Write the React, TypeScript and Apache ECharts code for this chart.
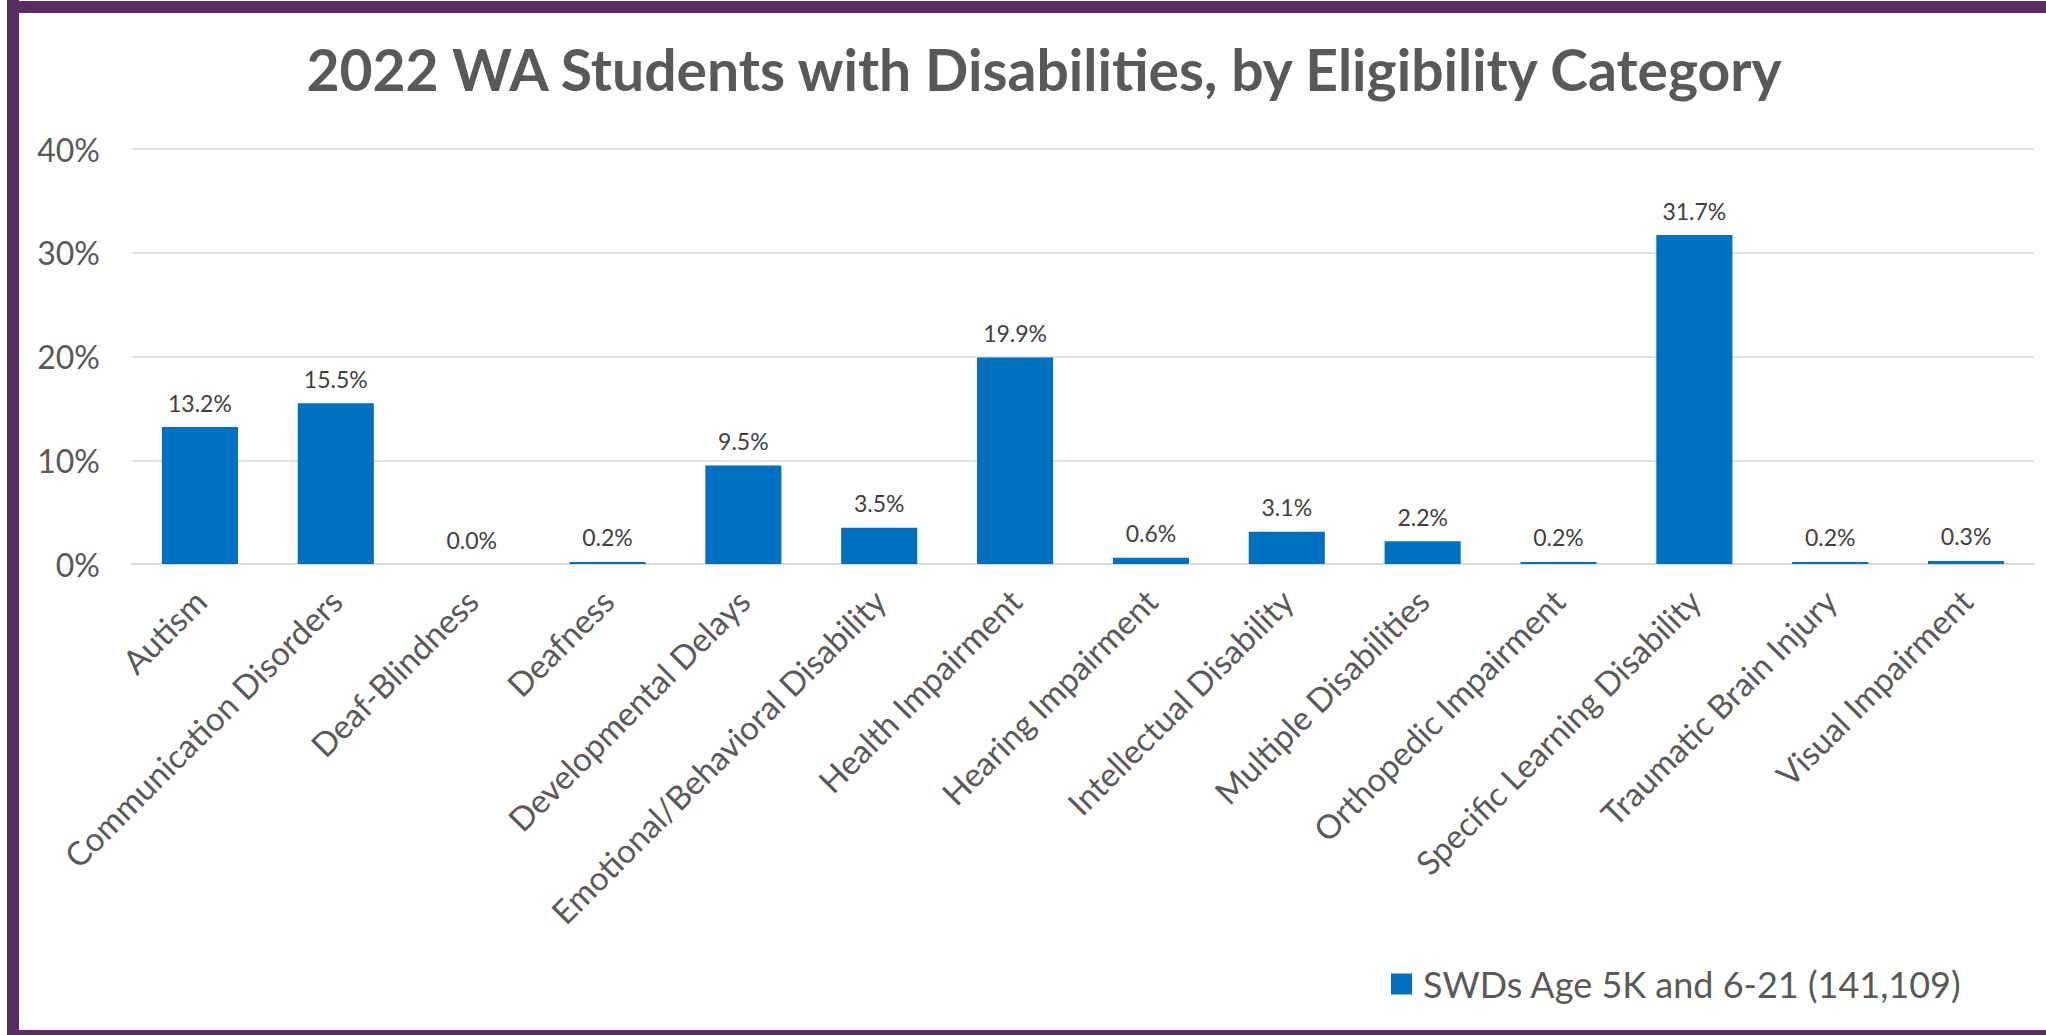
import React, { useEffect, useRef } from "react";
import * as echarts from "echarts";

const titleText = "2022 WA Students with Disabilities, by Eligibility Category";
const seriesName = "SWDs Age 5K and 6-21 (141,109)";
const categories = [
  "Autism",
  "Communication Disorders",
  "Deaf-Blindness",
  "Deafness",
  "Developmental Delays",
  "Emotional/Behavioral Disability",
  "Health Impairment",
  "Hearing Impairment",
  "Intellectual Disability",
  "Multiple Disabilities",
  "Orthopedic Impairment",
  "Specific Learning Disability",
  "Traumatic Brain Injury",
  "Visual Impairment",
];
const values = [13.2, 15.5, 0.0, 0.2, 9.5, 3.5, 19.9, 0.6, 3.1, 2.2, 0.2, 31.7, 0.2, 0.3];
const yMin = 0;
const yMax = 40;
const yInterval = 10;

const FONT = "Lato";
const PURPLE = "#5A2C60";

export default function App() {
  const ref = useRef<HTMLDivElement>(null);
  useEffect(() => {
    if (!ref.current) return;
    const chart = echarts.init(ref.current, undefined, { renderer: "svg" });
    chart.setOption({
      animation: false,
      backgroundColor: "#ffffff",
      title: {
        text: titleText,
        left: 1039,
        top: 35,
        textAlign: "center",
        textStyle: { fontFamily: FONT, fontWeight: "bold", fontSize: 57, color: "#595959" },
      },
      legend: {
        left: 1386,
        top: 961,
        icon: "rect",
        itemWidth: 21,
        itemHeight: 21,
        data: [seriesName],
        textStyle: { fontFamily: FONT, fontSize: 36, color: "#595959", padding: [0, 0, 0, 6] },
      },
      grid: { left: 132, right: 12, top: 149, bottom: 471, containLabel: false },
      xAxis: {
        type: "category",
        data: categories,
        axisLine: { lineStyle: { color: "#d9d9d9", width: 2 } },
        axisTick: { show: false },
        axisLabel: {
          interval: 0,
          rotate: 45,
          margin: 31,
          fontFamily: FONT,
          fontSize: 33,
          color: "#595959",
        },
      },
      yAxis: {
        type: "value",
        min: yMin,
        max: yMax,
        interval: yInterval,
        axisLine: { show: false },
        axisTick: { show: false },
        splitLine: { lineStyle: { color: "#d9d9d9", width: 1.5 } },
        axisLabel: {
          formatter: "{value}%",
          margin: 32,
          fontFamily: FONT,
          fontSize: 32,
          color: "#595959",
        },
      },
      series: [
        {
          name: seriesName,
          type: "bar",
          data: values,
          barCategoryGap: "44%",
          itemStyle: { color: "#0070C0" },
          label: {
            show: true,
            position: "top",
            distance: 13,
            formatter: (p: any) => Number(p.value).toFixed(1) + "%",
            fontFamily: FONT,
            fontSize: 23,
            color: "#404040",
          },
        },
      ],
      graphic: [
        { type: "rect", z: 100, shape: { x: 7, y: 0, width: 12, height: 1035 }, style: { fill: PURPLE } },
        { type: "rect", z: 100, shape: { x: 7, y: 1, width: 2039, height: 12 }, style: { fill: PURPLE } },
        { type: "rect", z: 100, shape: { x: 7, y: 1030, width: 2039, height: 5 }, style: { fill: PURPLE } },
      ],
    });
    return () => chart.dispose();
  }, []);
  return (
    <div
      ref={ref}
      style={{ position: "absolute", left: 0, top: 0, width: 2046, height: 1035, background: "#fff" }}
    />
  );
}
